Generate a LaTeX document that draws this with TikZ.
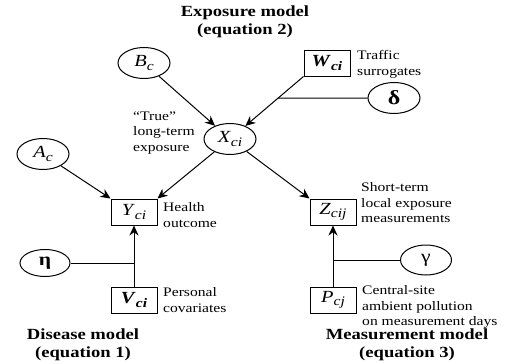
\documentclass[tikz,border=0pt]{standalone}
\usepackage{fontspec}
\setmainfont{Liberation Serif}[FakeStretch=1.2]
\usetikzlibrary{arrows.meta,shapes.geometric}
\newcommand\subv[1]{\raisebox{-0.45ex}{\fontsize{13}{13}\selectfont\itshape #1}}
\newcommand\nv[2]{\textit{#1}\subv{#2}}
\newcommand\bv[2]{\textbf{\textit{#1}}\subv{\bfseries #2}}
\begin{document}
\begin{tikzpicture}[x=1pt,y=-1pt,
 ell/.style={draw,ellipse,minimum width=52pt,minimum height=31pt,inner sep=0pt,line width=1pt,font=\fontsize{17}{18}\selectfont},
 box/.style={draw,rectangle,minimum width=46pt,minimum height=26pt,inner sep=0pt,line width=1pt,font=\fontsize{17}{18}\selectfont},
 lab/.style={align=left,anchor=west,font=\fontsize{13}{15.5}\selectfont,inner sep=0pt},
 ttl/.style={align=center,inner sep=0pt,font=\bfseries\fontsize{15.5}{18}\selectfont},
 arr/.style={-{Stealth[length=10pt,width=9pt]},line width=1pt},
 ln/.style={line width=1pt}]
\useasboundingbox (0,0) rectangle (507,364);
\node[ell] (B) at (144,63) {\nv{B}{c}};
\node[ell] (X) at (230,139) {\nv{X}{ci}};
\node[ell] (A) at (43,154) {\nv{A}{c}};
\node[box] (W) at (327,63) {\bv{W}{ci}};
\node[ell,font=\bfseries\fontsize{20}{20}\selectfont] (D) at (394,98) {δ};
\node[box] (Y) at (134,212) {\nv{Y}{ci}};
\node[ell,minimum width=50pt,minimum height=27pt,font=\bfseries\fontsize{18}{18}\selectfont] (E) at (45,263) {η};
\node[box] (V) at (134,300) {\bv{V}{ci}};
\node[box] (Z) at (333,212) {\nv{Z}{cij}};
\node[ell,minimum width=51pt,minimum height=30pt,font=\fontsize{18}{18}\selectfont] (G) at (426,260) {γ};
\node[box] (P) at (333,300) {\nv{P}{cj}};
\node[lab] (tT) at (133,133) {“True”\\long-term\\exposure};
\node[lab] (tW) at (357,64.5) {Traffic\\surrogates};
\node[lab] (tY) at (163,215) {Health\\outcome};
\node[lab] (tV) at (163,300) {Personal\\covariates};
\node[lab] (tZ) at (361,203) {Short-term\\local exposure\\measurements};
\node[lab] (tP) at (362,307) {Central-site\\ambient pollution\\on measurement days};
\node[ttl] (t2) at (245,22) {Exposure model\\(equation 2)};
\node[ttl] (t1) at (83,345) {Disease model\\(equation 1)};
\node[ttl] (t3) at (407,345) {Measurement model\\(equation 3)};
\draw[arr] (B) -- (X);
\draw[arr] (W.south west) -- (X);
\coordinate (jW) at (intersection of W.south west--X.center and D.west--D.center);
\draw[ln] (D.west) -- (jW);
\draw[arr] (A) -- (Y.north west);
\draw[arr] (X) -- (Y.north east);
\draw[arr] (X) -- (Z.north west);
\draw[arr] (V) -- (Y);
\draw[ln] (E.east) -- (E.east -| Y.center);
\draw[arr] (P) -- (Z);
\draw[ln] (G.west) -- (G.west -| Z.center);
\end{tikzpicture}
\end{document}
